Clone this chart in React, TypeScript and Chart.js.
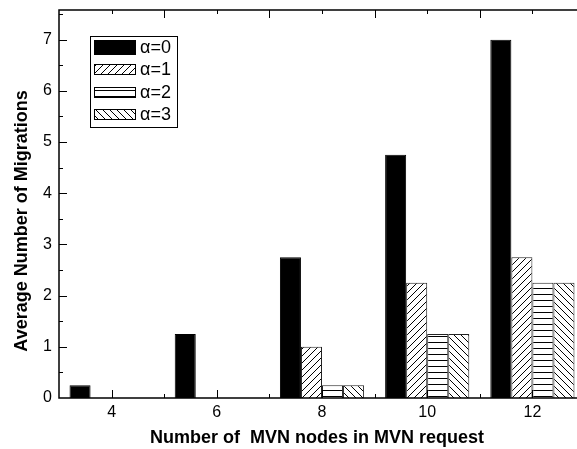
import React, { useEffect, useRef } from 'react';
import { Chart, registerables } from 'chart.js';

Chart.register(...registerables);

const categories = ['4', '6', '8', '10', '12'];
const seriesLabels = ['α=0', 'α=1', 'α=2', 'α=3'];
const alpha0 = [0.25, 1.25, 2.75, 4.75, 7.0];
const alpha1 = [0, 0, 1.0, 2.25, 2.75];
const alpha2 = [0, 0, 0.25, 1.25, 2.25];
const alpha3 = [0, 0, 0.25, 1.25, 2.25];
const yTickValues = [0, 1, 2, 3, 4, 5, 6, 7];
const xTitle = 'Number of  MVN nodes in MVN request';
const yTitle = 'Average Number of Migrations';
const Y_MIN = 0;
const Y_MAX = 7.58;

const FONT = "'Liberation Sans', Arial, sans-serif";

type Kind = 'solid' | 'fwd' | 'horiz' | 'back';
const kinds: Kind[] = ['solid', 'fwd', 'horiz', 'back'];

function makePattern(kind: Kind): CanvasPattern | string {
  if (kind === 'solid') return '#000';
  const c = document.createElement('canvas');
  const s = kind === 'horiz' ? 6 : 7;
  c.width = s;
  c.height = s;
  const g = c.getContext('2d')!;
  g.fillStyle = '#fff';
  g.fillRect(0, 0, s, s);
  g.strokeStyle = '#000';
  g.lineWidth = 1;
  g.beginPath();
  if (kind === 'horiz') {
    g.moveTo(0, 0.5);
    g.lineTo(s, 0.5);
  } else if (kind === 'fwd') {
    g.moveTo(-1, s + 1);
    g.lineTo(s + 1, -1);
    g.moveTo(-1, 1);
    g.lineTo(1, -1);
    g.moveTo(s - 1, s + 1);
    g.lineTo(s + 1, s - 1);
  } else {
    g.moveTo(-1, -1);
    g.lineTo(s + 1, s + 1);
    g.moveTo(s - 1, -1);
    g.lineTo(s + 1, 1);
    g.moveTo(-1, s - 1);
    g.lineTo(1, s + 1);
  }
  g.stroke();
  return g.createPattern(c, 'repeat')!;
}

const framePlugin = {
  id: 'frame',
  afterDatasetsDraw(chart: any) {
    const { ctx, chartArea: a, scales } = chart;
    const x = scales.x;
    const y = scales.y;
    ctx.save();
    ctx.strokeStyle = '#000';
    ctx.lineWidth = 1.5;
    ctx.beginPath();
    ctx.moveTo(a.left, a.top);
    ctx.lineTo(a.left, a.bottom);
    ctx.lineTo(a.right, a.bottom);
    ctx.lineTo(a.right, a.top);
    ctx.closePath();
    ctx.stroke();

    ctx.lineWidth = 1;
    ctx.beginPath();
    for (let v = Y_MIN + 0.5; v < Y_MAX; v += 0.5) {
      const py = Math.round(y.getPixelForValue(v)) + 0.5;
      const len = Number.isInteger(v) ? 8 : 4;
      ctx.moveTo(a.left, py);
      ctx.lineTo(a.left + len, py);
      ctx.moveTo(a.right, py);
      ctx.lineTo(a.right - len, py);
    }
    const c0 = Number(categories[0]);
    const step = Number(categories[1]) - c0;
    const vStart = c0 - step / 2;
    const vEnd = Number(categories[categories.length - 1]) + step / 2;
    for (let v = vStart + 1; v < vEnd; v += 1) {
      const px = Math.round(x.getPixelForValue((v - c0) / step)) + 0.5;
      const even = v % 2 === 0;
      const lb = even ? 8 : 4;
      const lt = even ? 4 : 8;
      ctx.moveTo(px, a.bottom);
      ctx.lineTo(px, a.bottom - lb);
      ctx.moveTo(px, a.top);
      ctx.lineTo(px, a.top + lt);
    }
    ctx.stroke();
    ctx.restore();
  },
  afterDraw(chart: any) {
    const { ctx } = chart;
    ctx.save();
    // axis titles
    ctx.fillStyle = '#000';
    ctx.font = `bold 18px ${FONT}`;
    ctx.textAlign = 'center';
    ctx.textBaseline = 'middle';
    ctx.fillText(xTitle, 317, 438);
    ctx.save();
    ctx.translate(22, 221);
    ctx.rotate(-Math.PI / 2);
    ctx.fillText(yTitle, 0, 0);
    ctx.restore();

    // legend
    const bx = 90, by = 36, bw = 87, bh = 91;
    ctx.lineWidth = 1;
    ctx.strokeStyle = '#000';
    ctx.fillStyle = '#fff';
    ctx.fillRect(bx, by, bw, bh);
    ctx.strokeRect(bx + 0.5, by + 0.5, bw, bh);
    chart.data.datasets.forEach((ds: any, i: number) => {
      const cy = by + 11 + i * 22.5;
      const h = i === 0 ? 15 : 11;
      ctx.fillStyle = ds.backgroundColor;
      ctx.fillRect(94, Math.round(cy - h / 2), 42, h);
      ctx.strokeStyle = '#000';
      ctx.strokeRect(94.5, Math.round(cy - h / 2) + 0.5, 41, h - 1);
      ctx.fillStyle = '#000';
      ctx.font = `18px ${FONT}`;
      ctx.textAlign = 'left';
      ctx.textBaseline = 'middle';
      ctx.fillText(ds.label, 140, cy + 1);
    });
    ctx.restore();
  },
};

export default function App() {
  const ref = useRef<HTMLCanvasElement>(null);
  useEffect(() => {
    const canvas = ref.current!;
    const series = [alpha0, alpha1, alpha2, alpha3];
    const chart = new Chart(canvas, {
      type: 'bar',
      data: {
        labels: categories,
        datasets: series.map((d, i) => ({
          label: seriesLabels[i],
          data: d,
          backgroundColor: makePattern(kinds[i]) as any,
          borderColor: i === 0 ? '#000' : '#222',
          borderWidth: 1,
          categoryPercentage: 0.8,
          barPercentage: 1.0,
        })),
      },
      options: {
        responsive: false,
        animation: false,
        devicePixelRatio: 1,
        layout: { padding: { top: 10, right: 15, bottom: 0, left: 0 } },
        plugins: { legend: { display: false }, tooltip: { enabled: false } },
        scales: {
          x: {
            type: 'category',
            offset: true,
            grid: { display: false, drawTicks: false },
            border: { display: false },
            ticks: { color: '#000', font: { family: FONT, size: 16 }, padding: 5, maxRotation: 0 },
            afterFit: (s: any) => {
              s.height = 51;
              s.paddingLeft = 0;
              s.paddingRight = 0;
            },
          },
          y: {
            min: Y_MIN,
            max: Y_MAX,
            grid: { display: false, drawTicks: false },
            border: { display: false },
            ticks: { color: '#000', font: { family: FONT, size: 16 }, padding: 7, stepSize: 1 },
            afterBuildTicks: (s: any) => { s.ticks = yTickValues.map((v) => ({ value: v })); },
            afterFit: (s: any) => {
              s.width = 59;
              s.paddingTop = 0;
              s.paddingBottom = 0;
            },
          },
        },
      },
      plugins: [framePlugin],
    });
    return () => chart.destroy();
  }, []);
  return (
    <div style={{ position: 'fixed', left: 0, top: 0, width: 577, height: 449, overflow: 'hidden', background: '#fff' }}>
      <canvas ref={ref} width={600} height={449} style={{ display: 'block' }} />
    </div>
  );
}
